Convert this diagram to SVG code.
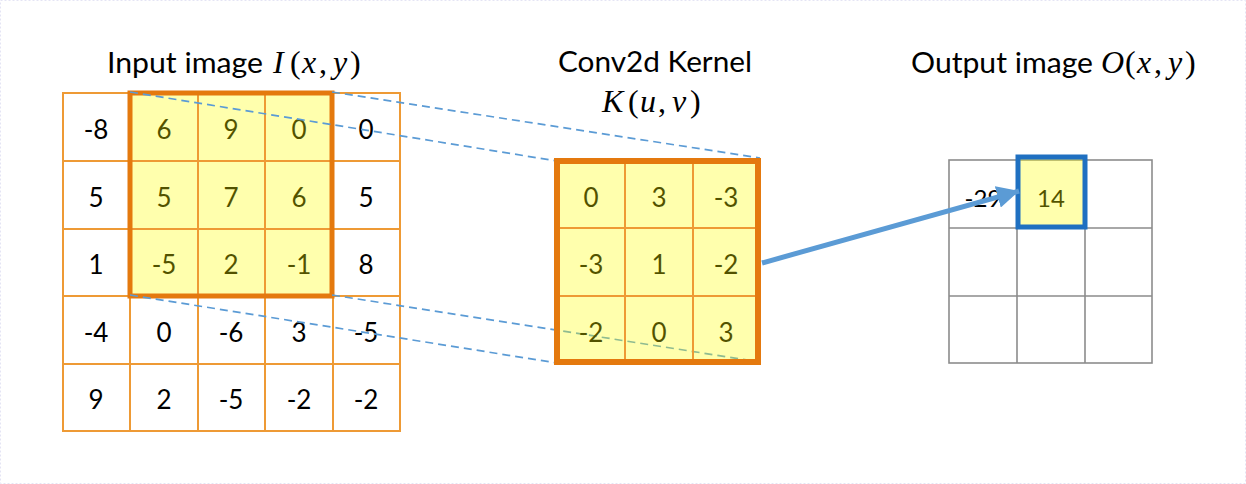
<svg xmlns="http://www.w3.org/2000/svg" width="1246" height="484" viewBox="0 0 1246 484">
<defs>
<style>
.num{font-family:Lato,"Liberation Sans",sans-serif;font-size:26px;fill:#000;text-anchor:middle}
.title{font-family:Lato,"Liberation Sans",sans-serif;font-size:28px;fill:#000}
.math{font-family:"Liberation Serif",serif;font-size:32px;fill:#000}
.it{font-style:italic}
.thin{fill:none;stroke:#EE9A35;stroke-width:2}
.thick{fill:none;stroke:#E4790E}
.hl{fill:#FFFF00;fill-opacity:0.32}
.dash{stroke:#5B9BD5;stroke-width:1.7;stroke-dasharray:8,5;fill:none}
.gray{fill:none;stroke:#8C8C8C;stroke-width:1.6}
</style>
<marker id="ah" markerUnits="userSpaceOnUse" markerWidth="24" markerHeight="22" refX="22" refY="11" orient="auto">
<path d="M0,0 L22,11 L0,22 Z" fill="#5B9BD5"/>
</marker>
</defs>
<rect x="0" y="0" width="1246" height="484" fill="#fff"/>
<rect x="0.5" y="0.5" width="1245" height="483" fill="none" stroke="#e4e4f4" stroke-dasharray="2,2"/>

<g id="title-input">
<text class="title" x="107" y="73" textLength="156" lengthAdjust="spacingAndGlyphs">Input image</text>
<text class="math" y="73"><tspan class="it" x="273">I</tspan><tspan x="290">(</tspan><tspan class="it" x="302">x</tspan><tspan x="319">,</tspan><tspan class="it" x="333">y</tspan><tspan x="350">)</tspan></text>
</g>
<g id="title-kernel">
<text class="title" x="558" y="72" textLength="194" lengthAdjust="spacingAndGlyphs">Conv2d Kernel</text>
<text class="math" y="112"><tspan class="it" x="602">K</tspan><tspan x="628">(</tspan><tspan class="it" x="640">u</tspan><tspan x="658">,</tspan><tspan class="it" x="672">v</tspan><tspan x="690">)</tspan></text>
</g>
<g id="title-output">
<text class="title" x="911" y="73" textLength="182" lengthAdjust="spacingAndGlyphs">Output image</text>
<text class="math" y="73"><tspan class="it" x="1101">O</tspan><tspan x="1125">(</tspan><tspan class="it" x="1137">x</tspan><tspan x="1154">,</tspan><tspan class="it" x="1168">y</tspan><tspan x="1185">)</tspan></text>
</g>

<g id="input-image">
<g>
<text class="num" x="96" y="139">-8</text><text class="num" x="164" y="139">6</text><text class="num" x="231" y="139">9</text><text class="num" x="299" y="139">0</text><text class="num" x="366" y="139">0</text>
<text class="num" x="96" y="207">5</text><text class="num" x="164" y="207">5</text><text class="num" x="231" y="207">7</text><text class="num" x="299" y="207">6</text><text class="num" x="366" y="207">5</text>
<text class="num" x="96" y="274">1</text><text class="num" x="164" y="274">-5</text><text class="num" x="231" y="274">2</text><text class="num" x="299" y="274">-1</text><text class="num" x="366" y="274">8</text>
<text class="num" x="96" y="342">-4</text><text class="num" x="164" y="342">0</text><text class="num" x="231" y="342">-6</text><text class="num" x="299" y="342">3</text><text class="num" x="366" y="342">-5</text>
<text class="num" x="96" y="409">9</text><text class="num" x="164" y="409">2</text><text class="num" x="231" y="409">-5</text><text class="num" x="299" y="409">-2</text><text class="num" x="366" y="409">-2</text>
</g>
<rect class="hl" x="130" y="93" width="202" height="203"/>
<rect class="thin" x="63" y="93" width="337" height="338"/>
<path class="thin" d="M130,93V431M198,93V431M265,93V431M333,93V431M63,161H400M63,229H400M63,296H400M63,364H400"/>
<rect class="thick" x="130" y="93" width="202" height="203" stroke-width="5"/>
</g>

<g id="connectors">
<line class="dash" x1="130" y1="92" x2="557" y2="161"/>
<line class="dash" x1="332" y1="92" x2="760" y2="158"/>
<line class="dash" x1="130" y1="295" x2="557" y2="363"/>
<line class="dash" x1="332" y1="295" x2="760" y2="362"/>
</g>

<g id="kernel">
<text class="num" x="591" y="207">0</text><text class="num" x="659" y="207">3</text><text class="num" x="726" y="207">-3</text>
<text class="num" x="591" y="274">-3</text><text class="num" x="659" y="274">1</text><text class="num" x="726" y="274">-2</text>
<text class="num" x="591" y="342">-2</text><text class="num" x="659" y="342">0</text><text class="num" x="726" y="342">3</text>
<rect class="hl" x="557" y="161" width="201" height="201"/>
<path class="thin" d="M625,161V362M693,161V362M557,228H758M557,296H758"/>
<rect class="thick" x="557" y="161" width="201" height="201" stroke-width="6"/>
</g>

<g id="output-image">
<rect class="gray" x="949" y="160" width="203" height="203"/>
<path class="gray" d="M1017,160V363M1085,160V363M949,228H1152M949,296H1152"/>
<text class="num" x="983" y="207" style="font-size:24px">-29</text>
<text class="num" x="1051" y="207" style="font-size:24px">14</text>
<rect class="hl" x="1018" y="157" width="67" height="70"/>
<rect x="1018" y="157" width="67" height="70" fill="none" stroke="#1F70C1" stroke-width="5"/>
</g>

<g id="arrow">
<line x1="762" y1="263" x2="1019" y2="191" stroke="#5B9BD5" stroke-width="5" marker-end="url(#ah)"/>
</g>
</svg>
